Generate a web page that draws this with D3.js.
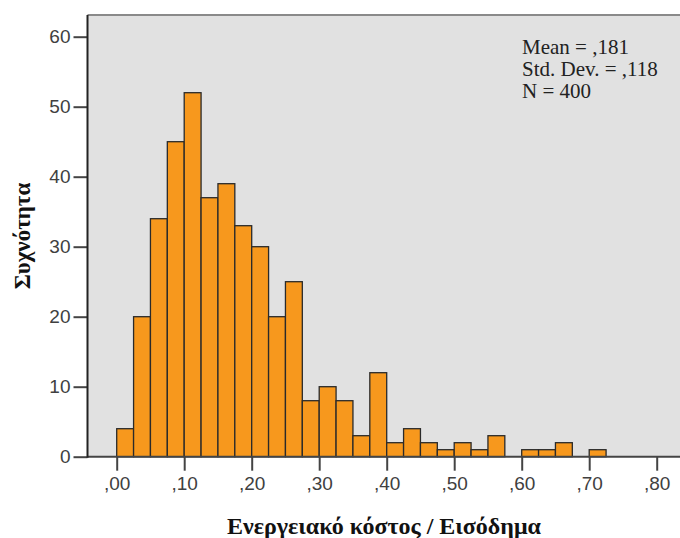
<!DOCTYPE html>
<html>
<head>
<meta charset="utf-8">
<script src="https://cdn.jsdelivr.net/npm/d3@7"></script>
<style>
  body { margin: 0; background: #fff; }
  .tick text { font-family: "Liberation Sans", Arial, sans-serif; font-size: 19px; fill: #404040; }
</style>
</head>
<body>
<div id="chart"></div>
<script>
var svgWidth = 680;
var svgHeight = 538;

// histogram bins (lower edge) and counts
var binStart = [0, .025, .05, .075, .1, .125, .15, .175, .2, .225, .25, .275, .3, .325, .35, .375,
  .4, .425, .45, .475, .5, .525, .55, .575, .6, .625, .65, .675, .7];
var counts = [4, 20, 34, 45, 52, 37, 39, 33, 30, 20, 25, 8, 10, 8, 3, 12,
  2, 4, 2, 1, 2, 1, 3, 0, 1, 1, 2, 0, 1];
var binWidth = 0.025;
var xTicks = [0, .1, .2, .3, .4, .5, .6, .7, .8];
var yTicks = [0, 10, 20, 30, 40, 50, 60];
var statLines = ["Mean = ,181", "Std. Dev. = ,118", "N = 400"];

var svg = d3.select("#chart")
  .append("svg")
  .attr("width", svgWidth)
  .attr("height", svgHeight);

// 0 -> 116.7px, .8 -> 656.7px ; 0 -> 456.7px, 60 -> 36.7px
var x = d3.scaleLinear().domain([0, 0.8]).range([116.7, 656.7]);
var y = d3.scaleLinear().domain([0, 60]).range([456.7, 36.7]);

var plotLeft = 87.5, plotTop = 15, plotRight = 720;

// plot background
svg.append("rect")
  .attr("x", plotLeft)
  .attr("y", plotTop)
  .attr("width", plotRight - plotLeft)
  .attr("height", y(0) - plotTop)
  .attr("fill", "#e1e1e1");

// top frame line
svg.append("line")
  .attr("x1", plotLeft).attr("x2", plotRight)
  .attr("y1", plotTop).attr("y2", plotTop)
  .attr("stroke", "#8a8a8a")
  .attr("stroke-width", 2);

// bars
svg.selectAll("rect.bar")
  .data(binStart.map((b, i) => ({ b: b, c: counts[i] })).filter(d => d.c > 0))
  .enter()
  .append("rect")
  .attr("class", "bar")
  .attr("x", d => x(d.b))
  .attr("y", d => y(d.c))
  .attr("width", d => x(d.b + binWidth) - x(d.b))
  .attr("height", d => y(0) - y(d.c))
  .attr("fill", "#f7981d")
  .attr("stroke", "#2a2a2a")
  .attr("stroke-width", 1.3);

var fmt = v => "," + d3.format(".2f")(v).split(".")[1];

// x axis
var xAxis = svg.append("g")
  .attr("transform", `translate(0, ${y(0)})`)
  .call(d3.axisBottom(x).tickValues(xTicks).tickFormat(fmt).tickSize(14).tickPadding(6));
xAxis.select(".domain").remove();
xAxis.append("line")
  .attr("x1", plotLeft).attr("x2", plotRight)
  .attr("stroke", "#444").attr("stroke-width", 2);
xAxis.selectAll(".tick line").attr("stroke", "#444").attr("stroke-width", 2);

// y axis
var yAxis = svg.append("g")
  .attr("transform", `translate(${plotLeft}, 0)`)
  .call(d3.axisLeft(y).tickValues(yTicks).tickSize(14).tickPadding(3));
yAxis.select(".domain").remove();
yAxis.append("line")
  .attr("y1", plotTop).attr("y2", y(0) + 1)
  .attr("stroke", "#222").attr("stroke-width", 2);
yAxis.selectAll(".tick line").attr("stroke", "#444").attr("stroke-width", 2);

// stats box
svg.append("g").selectAll("text")
  .data(statLines)
  .enter()
  .append("text")
  .attr("x", 522)
  .attr("y", (d, i) => 54 + i * 22)
  .attr("font-family", "'Liberation Serif', 'Times New Roman', serif")
  .attr("font-size", 21)
  .attr("fill", "#222")
  .text(d => d);

// axis titles
svg.append("text")
  .attr("x", 384)
  .attr("y", 534)
  .attr("text-anchor", "middle")
  .attr("font-family", "'Liberation Serif', 'Times New Roman', serif")
  .attr("font-weight", "bold")
  .attr("font-size", 24)
  .attr("fill", "#111")
  .text("Ενεργειακό κόστος / Εισόδημα");

svg.append("text")
  .attr("transform", "translate(30, 236) rotate(-90)")
  .attr("text-anchor", "middle")
  .attr("font-family", "'Liberation Serif', 'Times New Roman', serif")
  .attr("font-weight", "bold")
  .attr("font-size", 23)
  .attr("fill", "#111")
  .text("Συχνότητα");
</script>
</body>
</html>
